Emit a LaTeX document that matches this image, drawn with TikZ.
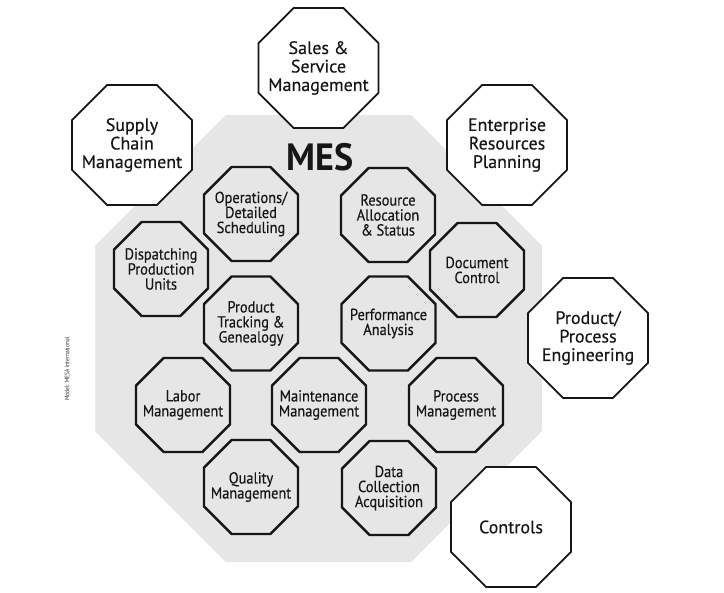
\documentclass[tikz,border=0pt]{standalone}
\usepackage{fontspec}
\setmainfont{PT Sans}
\newfontfamily\condfont[FakeStretch=0.9,FakeBold=0.4]{PT Sans}
\newfontfamily\outerfont[FakeBold=0.3]{PT Sans}
\newfontfamily\mesfont[FakeStretch=0.95]{PT Sans}
\newfontfamily\creditfont[FakeStretch=0.85]{PT Sans}
\usetikzlibrary{shapes.geometric}
\definecolor{mesgrey}{HTML}{E6E6E6}
\definecolor{ink}{HTML}{161616}
\begin{document}
\begin{tikzpicture}[x=1pt,y=-1pt,
  octo/.style={regular polygon, regular polygon sides=8, inner sep=0pt, draw=ink},
  innertext/.style={align=center, text=ink, inner sep=0pt, font=\condfont\fontsize{16}{15}\selectfont},
  outertext/.style={align=center, text=ink, inner sep=0pt, font=\outerfont\fontsize{18}{18.5}\selectfont},
  innerocto/.style={octo, minimum size=101.7pt, line width=2.4pt, label={[innertext]center:#1}},
  outerocto/.style={octo, minimum size=130pt, fill=white, line width=1.8pt, label={[outertext]center:#1}},
]
\useasboundingbox[fill=white] (0,0) rectangle (724,593);
\node[regular polygon, regular polygon sides=8, minimum size=483.8pt, fill=mesgrey, draw=none, inner sep=0pt] (mes) at (318.5,338.5) {};
\node[font=\mesfont\bfseries\fontsize{38}{38}\selectfont, text=ink, inner sep=0pt] (mestitle) at (320,157) {MES};

\node[outerocto={Sales \&\\Service\\Management}] (sales) at (318.5,68) {};
\node[outerocto={Supply\\Chain\\Management}] (supply) at (132,145) {};
\node[outerocto={Enterprise\\Resources\\Planning}] (erp) at (507,145) {};
\node[outerocto={Product/\\Process\\Engineering}] (ppe) at (588,338) {};
\node[outerocto={Controls}] (controls) at (511,527) {};

\node[innerocto={Operations/\\Detailed\\Scheduling}] (ops) at (251,214) {};
\node[innerocto={Resource\\Allocation\\\& Status}] (res) at (388,215) {};
\node[innerocto={Dispatching\\Production\\Units}] (disp) at (161,269) {};
\node[innerocto={Document\\Control}] (doc) at (477,270) {};
\node[innerocto={Product\\Tracking \&\\Genealogy}] (track) at (251,323.5) {};
\node[innerocto={Performance\\Analysis}] (perf) at (388.5,323.5) {};
\node[innerocto={Labor\\Management}] (labor) at (183,405) {};
\node[innerocto={Maintenance\\Management}] (maint) at (319,405) {};
\node[innerocto={Process\\Management}] (proc) at (456,405) {};
\node[innerocto={Quality\\Management}] (qual) at (251,487) {};
\node[innerocto={Data\\Collection\\Acquisition}] (data) at (389,488) {};

\node[rotate=90, font=\creditfont\fontsize{6.5}{6.5}\selectfont, text=black!80, inner sep=0pt] (credit) at (67,369) {Model: MESA International};
\end{tikzpicture}
\end{document}
